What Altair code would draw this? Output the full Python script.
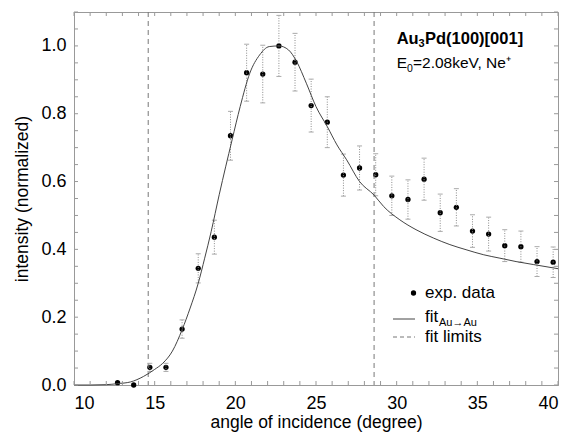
import altair as alt
import pandas as pd

# ---- data ----
angle = [12.7, 13.7, 14.7, 15.7, 16.7, 17.7, 18.7, 19.7, 20.7, 21.7, 22.7, 23.7, 24.7, 25.7,
         26.7, 27.7, 28.7, 29.7, 30.7, 31.7, 32.7, 33.7, 34.7, 35.7, 36.7, 37.7, 38.7, 39.7]
intensity = [0.007, 0.0, 0.052, 0.052, 0.165, 0.344, 0.436, 0.735, 0.921, 0.917, 1.0, 0.952,
             0.824, 0.775, 0.619, 0.640, 0.620, 0.558, 0.547, 0.607, 0.508, 0.524, 0.454,
             0.445, 0.411, 0.408, 0.364, 0.362]
error = [0.0, 0.0, 0.012, 0.012, 0.027, 0.043, 0.050, 0.072, 0.084, 0.085, 0.090, 0.085,
         0.078, 0.075, 0.062, 0.065, 0.062, 0.058, 0.058, 0.062, 0.055, 0.055, 0.048, 0.050,
         0.047, 0.046, 0.044, 0.045]

fit_x = [10.0, 11.0, 12.0, 12.7, 13.5, 14.3, 15.0, 15.5, 16.1, 16.7, 17.2, 17.7, 18.1, 18.5,
         19.0, 19.8, 20.3, 20.9, 21.5, 22.1, 22.7, 23.3, 23.8, 24.4, 25.0, 25.7, 26.3, 26.9,
         27.7, 28.6, 29.2, 30.2, 31.2, 32.3, 33.3, 34.3, 35.4, 36.4, 37.4, 38.5, 40.0]
fit_y = [0.0, 0.0, 0.001, 0.004, 0.009, 0.025, 0.046, 0.064, 0.100, 0.163, 0.227, 0.300,
         0.374, 0.452, 0.561, 0.723, 0.821, 0.920, 0.973, 0.998, 1.0, 0.988, 0.954, 0.890,
         0.821, 0.762, 0.708, 0.664, 0.600, 0.560, 0.526, 0.487, 0.458, 0.433, 0.414, 0.399,
         0.384, 0.374, 0.364, 0.355, 0.343]

fit_limits = [14.6, 28.6]

x_labels = [10, 15, 20, 25, 30, 35, 40]
y_labels = [0.0, 0.2, 0.4, 0.6, 0.8, 1.0]
x_minor = list(range(10, 41))
y_minor = [round(0.05 * i, 2) for i in range(23)]

# ---- layout ----
W, H = 484, 373
FONT = "Liberation Sans"
GREY = "#999999"

xs = alt.Scale(domain=[10, 40], nice=False, zero=False)
ys = alt.Scale(domain=[0, 1.1], nice=False)

df = pd.DataFrame({"angle": angle, "intensity": intensity, "err": error})
df["lo"] = df["intensity"] - df["err"]
df["hi"] = df["intensity"] + df["err"]
df_err = df[df["err"] > 0]
df_fit = pd.DataFrame({"angle": fit_x, "fit": fit_y})
df_lim = pd.DataFrame({"angle": fit_limits})
xt = pd.DataFrame({"v": x_minor})
yt = pd.DataFrame({"v": y_minor})

XA = alt.Axis(values=x_labels, title="angle of incidence (degree)")
YA = alt.Axis(values=y_labels, format=".1f", title="intensity (normalized)")


def X(f):
    return alt.X(f, scale=xs, axis=XA)


def Y(f):
    return alt.Y(f, scale=ys, axis=YA)


# inward ticks on all four sides
tick_bottom = alt.Chart(xt).mark_rule(color=GREY, strokeWidth=1).encode(
    x=X("v:Q"), y=alt.value(H), y2=alt.value(H - 4))
tick_top = alt.Chart(xt).mark_rule(color=GREY, strokeWidth=1).encode(
    x=X("v:Q"), y=alt.value(0), y2=alt.value(4))
tick_left = alt.Chart(yt).mark_rule(color=GREY, strokeWidth=1).encode(
    y=Y("v:Q"), x=alt.value(0), x2=alt.value(4))
tick_right = alt.Chart(yt).mark_rule(color=GREY, strokeWidth=1).encode(
    y=Y("v:Q"), x=alt.value(W), x2=alt.value(W - 4))

limits = alt.Chart(df_lim).mark_rule(color="#777777", strokeWidth=1, strokeDash=[5, 4]).encode(
    x=X("angle:Q"))

err_bars = alt.Chart(df_err).mark_rule(color="#8a8a8a", strokeWidth=1, strokeDash=[1, 1.5]).encode(
    x=X("angle:Q"), y=Y("lo:Q"), y2="hi:Q")
cap_lo = alt.Chart(df_err).mark_rule(color="#aaaaaa", strokeWidth=1, xOffset=-2.5, x2Offset=2.5).encode(
    x=X("angle:Q"), x2="angle:Q", y=Y("lo:Q"))
cap_hi = alt.Chart(df_err).mark_rule(color="#aaaaaa", strokeWidth=1, xOffset=-2.5, x2Offset=2.5).encode(
    x=X("angle:Q"), x2="angle:Q", y=Y("hi:Q"))

fit_line = alt.Chart(df_fit).mark_line(color="#444444", strokeWidth=1, interpolate="monotone").encode(
    x=X("angle:Q"), y=Y("fit:Q"))

points = alt.Chart(df).mark_circle(color="black", opacity=1, size=28).encode(
    x=X("angle:Q"), y=Y("intensity:Q"))

# ---- legend (drawn) ----
leg_dot = alt.Chart().mark_circle(color="black", opacity=1, size=28).encode(
    x=alt.value(339.5), y=alt.value(281))
leg_line = alt.Chart().mark_rule(color="#444444", strokeWidth=1).encode(
    x=alt.value(319), x2=alt.value(341), y=alt.value(307))
leg_dash = alt.Chart().mark_rule(color="#777777", strokeWidth=1, strokeDash=[4, 3]).encode(
    x=alt.value(319), x2=alt.value(341), y=alt.value(325))


def txt(s, x, y, size, weight="normal"):
    return alt.Chart().mark_text(text=s, font=FONT, fontSize=size, fontWeight=weight,
                                 align="left", baseline="alphabetic", color="black").encode(
        x=alt.value(x), y=alt.value(y))


leg_t1 = txt("exp. data", 351, 285.5, 17)
leg_t2 = txt("fit", 351, 309.5, 17)
leg_t2s = txt("Au\u2192Au", 365, 314, 11)
leg_t3 = txt("fit limits", 351, 330, 17)

title1a = txt("Au", 322.7, 31.7, 16.5, "bold")
title1b = txt("3", 344.5, 35, 11, "bold")
title1c = txt("Pd(100)[001]", 351, 31.7, 16.5, "bold")
title2a = txt("E", 322.7, 56, 15.5)
title2b = txt("0", 333, 59.5, 10.5)
title2c = txt("=2.08keV, Ne\u207a", 339, 56, 15.5)

chart = alt.layer(
    points, limits, err_bars, cap_lo, cap_hi, fit_line,
    tick_bottom, tick_top, tick_left, tick_right,
    leg_dot, leg_line, leg_dash, leg_t1, leg_t2, leg_t2s, leg_t3,
    title1a, title1b, title1c, title2a, title2b, title2c,
).properties(
    width=W, height=H,
    padding={"left": 66, "top": 4, "right": 1, "bottom": 47},
    autosize=alt.AutoSizeParams(type="none"),
).configure(font=FONT).configure_view(
    stroke=GREY, strokeWidth=1
).configure_axis(
    tickSize=0, grid=False, domainColor=GREY, domainWidth=1,
    labelFont=FONT, labelFontSize=18, labelColor="black",
    titleFont=FONT, titleFontSize=17.5, titleFontWeight="normal", titleColor="black",
).configure_axisX(
    labelPadding=9, titlePadding=1
).configure_axisY(
    labelPadding=8, titlePadding=9
)

chart.save("out.html", embed_options={"renderer": "svg", "actions": False})
